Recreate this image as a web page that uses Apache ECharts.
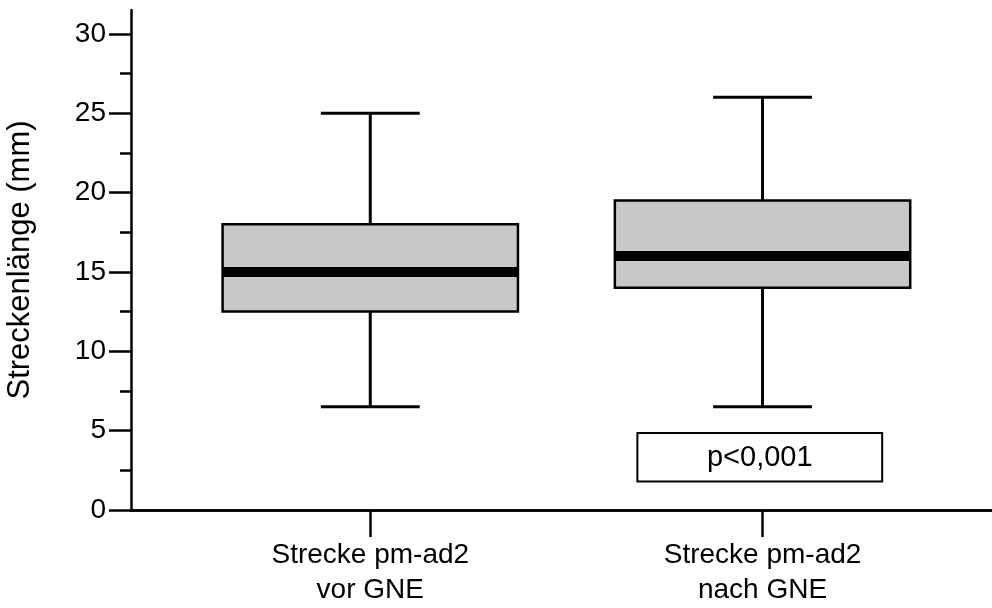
<!DOCTYPE html>
<html>
<head>
<meta charset="utf-8">
<script src="https://cdn.jsdelivr.net/npm/echarts@6/dist/echarts.min.js"></script>
<style>
  html, body { margin: 0; padding: 0; background: #fff; }
  #chart { width: 992px; height: 608px; }
</style>
</head>
<body>
<div id="chart"></div>
<script>
// Box plot data: route length pm-ad2 before / after GNE (mm)
const categories = ['Strecke pm-ad2\nvor GNE', 'Strecke pm-ad2\nnach GNE'];
const whiskerLow = [6.5, 6.5];
const quartile1 = [12.5, 14];
const medians = [15, 16];
const quartile3 = [18, 19.5];
const whiskerHigh = [25, 26];
const yMajorTicks = [0, 5, 10, 15, 20, 25, 30];
const yMinorTicks = [2.5, 7.5, 12.5, 17.5, 22.5, 27.5];
const pValueText = 'p<0,001';

// layout (axis units)
const X_MIN = 0.39, X_MAX = 2.585, Y_MAX = 31.5;
const BOX_WIDTH = 0.753, CAP_WIDTH = 0.252;
const P_BOX = { x0: 1.681, x1: 2.305, y0: 1.8, y1: 4.85 };

const FONT = "'Liberation Sans', Arial, Helvetica, sans-serif";

const boxRows = categories.map((c, i) => [
  i + 1, whiskerLow[i], quartile1[i], medians[i], quartile3[i], whiskerHigh[i]
]);

function renderBox(params, api) {
  const x = api.value(0);
  const lo = api.coord([x, api.value(1)]);
  const q1 = api.coord([x, api.value(2)]);
  const md = api.coord([x, api.value(3)]);
  const q3 = api.coord([x, api.value(4)]);
  const hi = api.coord([x, api.value(5)]);
  const bw = api.size([BOX_WIDTH, 0])[0];
  const cw = api.size([CAP_WIDTH, 0])[0];
  const cx = md[0];
  const lineStyle = { stroke: '#000', lineWidth: 3 };
  return {
    type: 'group',
    children: [
      { type: 'line', shape: { x1: cx, y1: lo[1], x2: cx, y2: q1[1] }, style: lineStyle },
      { type: 'line', shape: { x1: cx, y1: q3[1], x2: cx, y2: hi[1] }, style: lineStyle },
      { type: 'line', shape: { x1: cx - cw / 2, y1: lo[1], x2: cx + cw / 2, y2: lo[1] }, style: lineStyle },
      { type: 'line', shape: { x1: cx - cw / 2, y1: hi[1], x2: cx + cw / 2, y2: hi[1] }, style: lineStyle },
      { type: 'rect', shape: { x: cx - bw / 2, y: q3[1], width: bw, height: q1[1] - q3[1] },
        style: { fill: '#c8c8c8', stroke: '#000', lineWidth: 2.5 } },
      { type: 'line', shape: { x1: cx - bw / 2, y1: md[1], x2: cx + bw / 2, y2: md[1] },
        style: { stroke: '#000', lineWidth: 10 } }
    ]
  };
}

function renderPBox(params, api) {
  const a = api.coord([P_BOX.x0, P_BOX.y1]);
  const b = api.coord([P_BOX.x1, P_BOX.y0]);
  return {
    type: 'group',
    children: [
      { type: 'rect', shape: { x: a[0], y: a[1], width: b[0] - a[0], height: b[1] - a[1] },
        style: { fill: '#fff', stroke: '#000', lineWidth: 2 } },
      { type: 'text', x: (a[0] + b[0]) / 2, y: (a[1] + b[1]) / 2 + 1,
        style: { text: pValueText, fill: '#000', font: '29px ' + FONT, align: 'center', verticalAlign: 'middle' } }
    ]
  };
}

const chart = echarts.init(document.getElementById('chart'));
chart.setOption({
  animation: false,
  backgroundColor: '#fff',
  textStyle: { fontFamily: FONT, color: '#000' },
  grid: { left: 131, right: 0, top: 10, bottom: 98, containLabel: false, outerBoundsMode: 'none' },
  xAxis: [{
    type: 'value', min: X_MIN, max: X_MAX, position: 'bottom',
    splitLine: { show: false },
    axisLine: { show: true, lineStyle: { color: '#000', width: 2.5 } },
    axisTick: { show: true, customValues: [1, 2], length: 27, lineStyle: { color: '#000', width: 2.5 } },
    axisLabel: {
      customValues: [1, 2], margin: 28, fontSize: 28, lineHeight: 35, color: '#000', fontFamily: FONT,
      formatter: v => categories[Math.round(v) - 1]
    }
  }, {
    type: 'value', min: X_MIN, max: X_MAX, position: 'top',
    splitLine: { show: false },
    axisLine: { show: true, lineStyle: { color: '#000', width: 2.5 } },
    axisTick: { show: false }, axisLabel: { show: false }
  }],
  yAxis: [{
    type: 'value', min: 0, max: Y_MAX, position: 'left',
    name: 'Streckenlänge (mm)', nameLocation: 'middle', nameGap: 95,
    nameTextStyle: { fontSize: 31, color: '#000', fontFamily: FONT },
    splitLine: { show: false },
    axisLine: { show: true, lineStyle: { color: '#000', width: 2.5 } },
    axisTick: { show: true, customValues: yMajorTicks, length: 22, lineStyle: { color: '#000', width: 2.5 } },
    axisLabel: { customValues: yMajorTicks, margin: 25, fontSize: 28, color: '#000', fontFamily: FONT }
  }, {
    type: 'value', min: 0, max: Y_MAX, position: 'left',
    splitLine: { show: false },
    axisLine: { show: false },
    axisTick: { show: true, customValues: yMinorTicks, length: 11, lineStyle: { color: '#000', width: 2.5 } },
    axisLabel: { show: false }
  }],
  series: [{
    type: 'custom', name: 'Streckenlänge', xAxisIndex: 0, yAxisIndex: 0,
    data: boxRows, encode: { x: 0, y: [1, 2, 3, 4, 5] },
    renderItem: renderBox, z: 3
  }, {
    type: 'custom', name: 'p', xAxisIndex: 0, yAxisIndex: 0,
    data: [[0]], renderItem: renderPBox, z: 4, silent: true
  }]
});
</script>
</body>
</html>
